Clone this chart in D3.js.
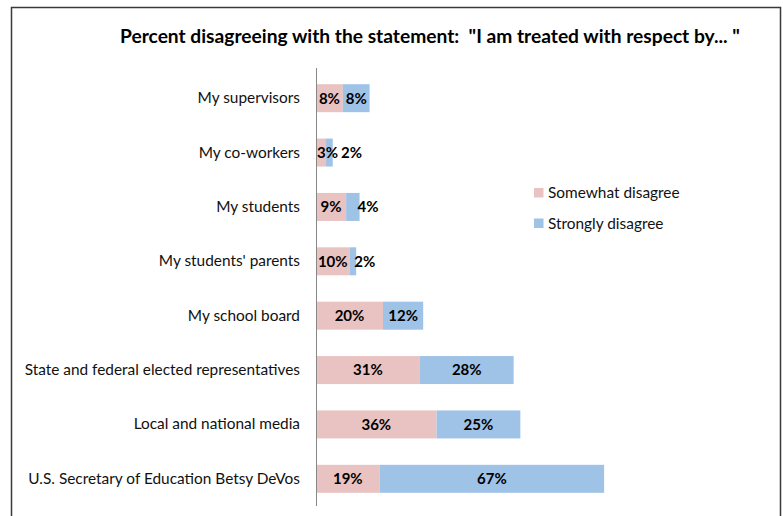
<!DOCTYPE html>
<html>
<head>
<meta charset="utf-8">
<script src="https://cdn.jsdelivr.net/npm/d3@7"></script>
<style>
  html, body { margin: 0; padding: 0; background: #fff; }
  svg { display: block; font-family: Lato, "Open Sans", sans-serif; }
</style>
</head>
<body>
<svg id="chart" width="783" height="516"></svg>
<script>
const categories = [
  "My supervisors",
  "My co-workers",
  "My students",
  "My students' parents",
  "My school board",
  "State and federal elected representatives",
  "Local and national media",
  "U.S. Secretary of Education Betsy DeVos"
];
const somewhat = [8, 3, 9, 10, 20, 31, 36, 19];
const strongly = [8, 2, 4, 2, 12, 28, 25, 67];
const seriesNames = ["Somewhat disagree", "Strongly disagree"];
const colors = ["#E9C3C2", "#9FC2E7"];
const title = 'Percent disagreeing with the statement:  "I am treated with respect by... "';

const svg = d3.select("#chart");

// frame
svg.append("path")
  .attr("d", "M11.5,520 V7.5 H780.5 V520")
  .attr("fill", "none")
  .attr("stroke", "#3a3a3a")
  .attr("stroke-width", 1.5);

// title
const t = svg.append("text")
  .attr("x", 120).attr("y", 43)
  .attr("font-weight", "bold")
  .attr("font-size", 16.5)
  .attr("fill", "#000")
  .style("white-space", "pre")
  .text(title);
const tw = t.node().getComputedTextLength();
t.attr("font-size", 16.5 * 620 / tw);

const x0 = 316;
const x = d3.scaleLinear().domain([0, 100]).range([x0, x0 + 335]);
const y = d3.scaleBand().domain(categories).range([71, 506]).paddingInner(0.485).paddingOuter(0.2425);

const data = categories.map((c, i) => ({ cat: c, vals: [somewhat[i], strongly[i]] }));
const stackData = d3.stack().keys([0, 1])(data.map(d => ({ 0: d.vals[0], 1: d.vals[1], cat: d.cat })));

const g = svg.append("g");
stackData.forEach((layer, si) => {
  g.selectAll(null).data(layer).enter().append("rect")
    .attr("x", d => x(d[0]))
    .attr("y", d => y(d.data.cat))
    .attr("width", d => x(d[1]) - x(d[0]))
    .attr("height", y.bandwidth())
    .attr("fill", colors[si]);
});

// axis line (category axis)
const yAxis = d3.axisLeft(y).tickSize(0).tickPadding(16);
const ax = svg.append("g").attr("transform", `translate(${x0},0)`).call(yAxis);
ax.select(".domain").attr("stroke", "#888").attr("stroke-width", 1).attr("d", "M0.5,68V506");
ax.selectAll("text").attr("font-size", 15.4).attr("fill", "#111").attr("font-family", "Lato, sans-serif");

// data labels
const lbl = svg.append("g").attr("font-weight", "bold").attr("font-size", 15).attr("fill", "#000");
data.forEach(d => {
  let prevEnd = -Infinity;
  let start = 0;
  d.vals.forEach((v, si) => {
    const xa = x(start), xb = x(start + v);
    const txt = v + "%";
    const el = lbl.append("text").attr("y", y(d.cat) + y.bandwidth() / 2).attr("dy", "0.36em").text(txt);
    const w = el.node().getComputedTextLength();
    if (xb - xa >= w + 1) {
      el.attr("x", (xa + xb) / 2).attr("text-anchor", "middle");
      prevEnd = (xa + xb) / 2 + w / 2;
    } else {
      let s = si === 0 ? xa + 1 : Math.max(xb - 2, prevEnd + 3);
      el.attr("x", s).attr("text-anchor", "start");
      prevEnd = s + w;
    }
    start += v;
  });
});

// legend
const leg = svg.append("g");
seriesNames.forEach((n, i) => {
  const ly = 192.5 + i * 30.5;
  leg.append("rect").attr("x", 534).attr("y", ly - 4.5).attr("width", 9.5).attr("height", 9.5).attr("fill", colors[i]);
  leg.append("text").attr("x", 548).attr("y", ly).attr("dy", "0.36em").attr("font-size", 15.4).attr("fill", "#111").text(n);
});
</script>
</body>
</html>
